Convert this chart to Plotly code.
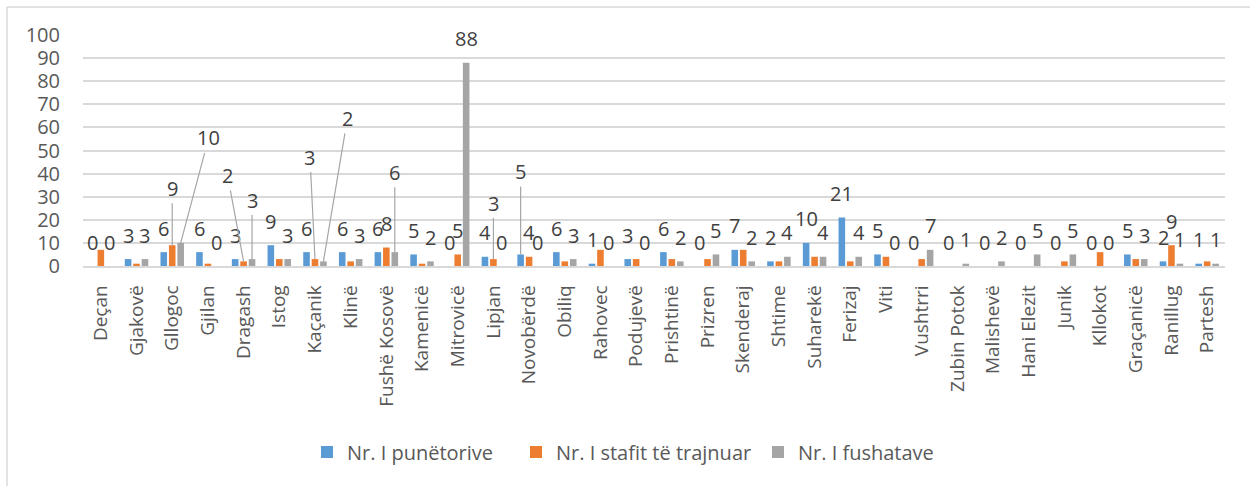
import plotly.graph_objects as go

categories = ["Deçan", "Gjakovë", "Gllogoc", "Gjilan", "Dragash", "Istog", "Kaçanik", "Klinë",
              "Fushë Kosovë", "Kamenicë", "Mitrovicë", "Lipjan", "Novobërdë", "Obiliq", "Rahovec",
              "Podujevë", "Prishtinë", "Prizren", "Skenderaj", "Shtime", "Suharekë", "Ferizaj", "Viti",
              "Vushtrri", "Zubin Potok", "Malishevë", "Hani Elezit", "Junik", "Kllokot", "Graçanicë",
              "Ranillug", "Partesh"]

punetorive = [0, 3, 6, 6, 3, 9, 6, 6, 6, 5, 0, 4, 5, 6, 1, 3, 6, 0, 7, 2, 10, 21, 5, 0, 0, 0, 0, 0, 0, 5, 2, 1]
stafit = [7, 1, 9, 1, 2, 3, 3, 2, 8, 1, 5, 3, 4, 2, 7, 3, 3, 3, 7, 2, 4, 2, 4, 3, 0, 0, 0, 2, 6, 3, 9, 2]
fushatave = [0, 3, 10, 0, 3, 3, 2, 3, 6, 2, 88, 0, 0, 3, 0, 0, 2, 5, 2, 4, 4, 4, 0, 7, 1, 2, 5, 5, 0, 3, 1, 1]

series_names = ["Nr. I punëtorive", "Nr. I stafit të trajnuar", "Nr. I fushatave"]
colors = ["#5B9BD5", "#ED7D31", "#A5A5A5"]

# which orange (middle series) labels are shown
orange_label_cats = ["Gllogoc", "Dragash", "Kaçanik", "Fushë Kosovë", "Mitrovicë", "Lipjan", "Novobërdë", "Ranillug"]

# labels dragged away from bars (series index, category) -> (dx, dy) pixels, drawn with leader lines
moved = {
    (1, "Gllogoc"): (0, -57),
    (2, "Gllogoc"): (28, -105),
    (1, "Dragash"): (-16, -86),
    (2, "Dragash"): (0, -59),
    (1, "Kaçanik"): (-5, -102),
    (2, "Kaçanik"): (24, -143),
    (2, "Fushë Kosovë"): (0, -80),
    (1, "Lipjan"): (0, -56),
    (0, "Novobërdë"): (0, -83),
}

L, R, T, B = 83, 25, 35, 220
W, H = 1250, 486
plot_w = W - L - R
plot_h = H - T - B
FONT = "Open Sans"
TXT = "#595959"
LBL = "#404040"

def px_x(p):
    return (p - L) / plot_w

def px_y(p):
    return (H - B - p) / plot_h

fig = go.Figure()
all_vals = [punetorive, stafit, fushatave]
legend_ids = ["legend", "legend2", "legend3"]
legend_x = [307, 516, 758]
for name, vals, col, lid in zip(series_names, all_vals, colors, legend_ids):
    fig.add_trace(go.Bar(x=categories, y=vals, name=name, legend=lid,
                         marker=dict(color=col, line=dict(width=0))))

slot = plot_w / len(categories)
bargap = 0.29
pitch = slot * (1 - bargap) / 3
annotations = []
for si, vals in enumerate(all_vals):
    for cat, v in zip(categories, vals):
        if si == 1 and cat not in orange_label_cats:
            continue
        xs = (si - 1) * pitch
        key = (si, cat)
        if key in moved:
            dx, dy = moved[key]
            annotations.append(dict(x=cat, y=v, xref="x", yref="y", text=str(v), xshift=xs,
                                    showarrow=True, arrowhead=0, arrowwidth=1.2, arrowcolor="#A6A6A6",
                                    ax=dx, ay=dy, standoff=0,
                                    font=dict(family=FONT, size=20, color=LBL)))
        else:
            annotations.append(dict(x=cat, y=v, xref="x", yref="y", text=str(v), xshift=xs,
                                    yshift=24, showarrow=False, yanchor="middle",
                                    font=dict(family=FONT, size=20, color=LBL)))

shapes = [
    dict(type="line", xref="paper", yref="paper", x0=px_x(7), x1=px_x(1260), y0=px_y(7), y1=px_y(7),
         line=dict(color="#D9D9D9", width=1.5)),
    dict(type="line", xref="paper", yref="paper", x0=px_x(7), x1=px_x(7), y0=px_y(7), y1=px_y(500),
         line=dict(color="#D9D9D9", width=1.5)),
]

legend_style = dict(orientation="h", xanchor="left", y=px_y(452), yanchor="middle",
                    font=dict(family="Liberation Sans Narrow, " + FONT, size=20, color=TXT),
                    itemwidth=30, bgcolor="rgba(0,0,0,0)")

fig.update_layout(
    width=W, height=H,
    margin=dict(l=L, r=R, t=T, b=B, autoexpand=False),
    paper_bgcolor="white", plot_bgcolor="white",
    barmode="group", bargap=bargap, bargroupgap=0.22,
    font=dict(family=FONT, color=TXT),
    annotations=annotations,
    shapes=shapes,
    legend=dict(x=px_x(legend_x[0]), **legend_style),
    legend2=dict(x=px_x(legend_x[1]), **legend_style),
    legend3=dict(x=px_x(legend_x[2]), **legend_style),
    showlegend=True,
)
fig.update_yaxes(range=[0, 100], dtick=10, showgrid=True, gridcolor="#D9D9D9", gridwidth=1.5,
                 zeroline=False, showline=False, ticks="", ticklabelstandoff=22,
                 tickfont=dict(family=FONT, size=20, color=TXT))
fig.update_xaxes(type="category", tickangle=-90, showline=True, linecolor="#D9D9D9", linewidth=1.5,
                 ticks="", ticklabelstandoff=10, tickfont=dict(family=FONT, size=19, color=TXT))

fig.write_html("out.html", config={"displayModeBar": False},
               post_script="document.body.style.margin='0';document.body.style.padding='0';")
